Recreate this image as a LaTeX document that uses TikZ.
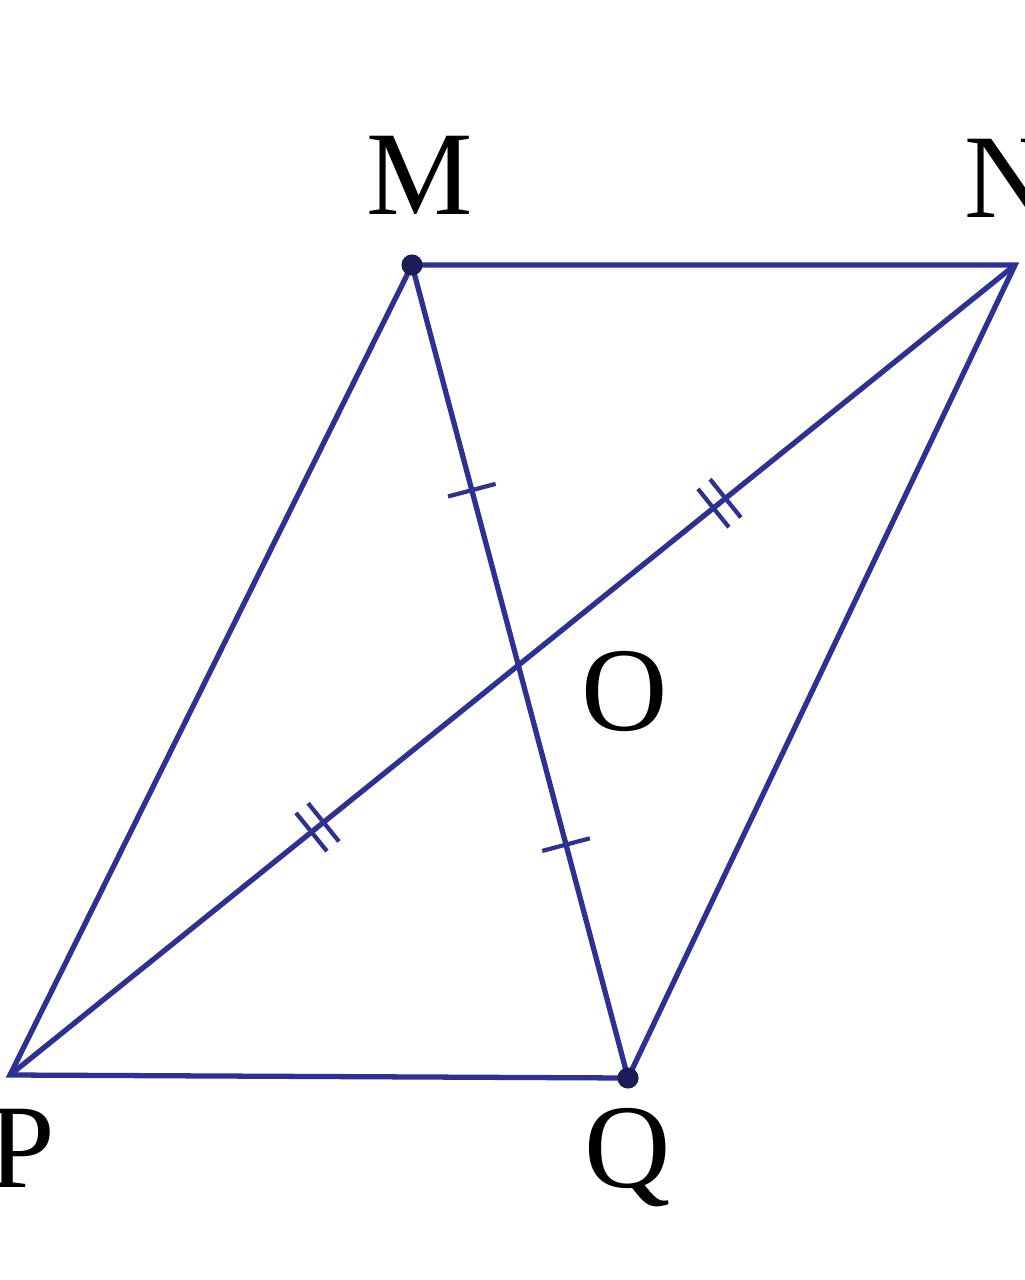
\documentclass[tikz,border=0pt]{standalone}
\usepackage{fontspec}
\setmainfont{Liberation Serif}
\usetikzlibrary{decorations.markings,calc}
\definecolor{ln}{HTML}{2E3192}
\tikzset{
  edge/.style={draw=ln,line width=1.5pt},
  lbl/.style={font=\fontsize{34}{40}\selectfont,text=black,inner sep=0pt},
  onetick/.style={postaction={decorate,decoration={markings,mark=at position #1 with {\draw[ln,line width=1.2pt] (0,-7pt) -- (0,7pt);}}}},
  twotick/.style={postaction={decorate,decoration={markings,mark=at position #1 with {\draw[ln,line width=1.2pt] (-2.2pt,-7pt) -- (-2.2pt,7pt) (2.2pt,-7pt) -- (2.2pt,7pt);}}}},
  vdot/.style={circle,fill=ln!60!black,inner sep=0pt,minimum size=6pt}
}
\begin{document}
\begin{tikzpicture}[x=0.01cm,y=-0.01cm]
\useasboundingbox (0,0) rectangle (1024,1280);
\clip (0,0) rectangle (1024,1280);
\fill[white] (0,0) rectangle (1024,1280);
\coordinate (M) at (412,265);
\coordinate (N) at (1015,265);
\coordinate (P) at (10,1075);
\coordinate (Q) at (628,1078);
\draw[edge] (M) -- (N) -- (Q) -- (P) -- cycle;
\draw[edge,onetick=0.277,onetick=0.713] (M) -- (Q);
\draw[edge,twotick=0.306,twotick=0.706] (P) -- (N);
\node[vdot] (dM) at (M) {};
\node[vdot] (dQ) at (Q) {};
\node[lbl] (lM) at (420,175) {M};
\node[lbl] (lN) at (1008,178) {N};
\node[lbl] (lP) at (22,1148) {P};
\node[lbl] (lQ) at (628,1158) {Q};
\node[lbl] (lO) at (625,692) {O};
\end{tikzpicture}
\end{document}
